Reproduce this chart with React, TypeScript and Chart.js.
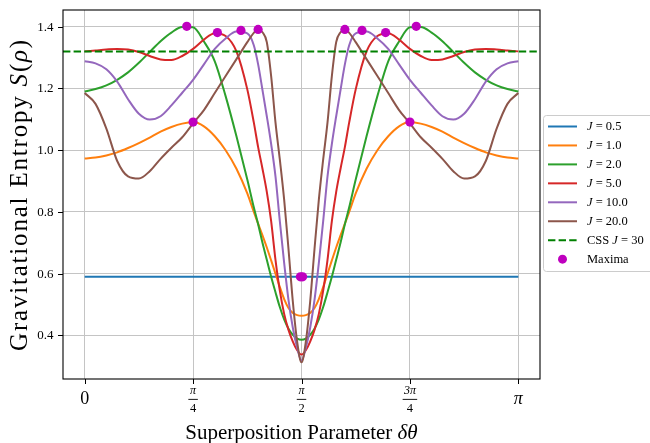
import { useEffect, useRef } from 'react';
import { Chart, registerables } from 'chart.js';

Chart.register(...registerables);

// Superposition parameter δθ, in units of π
const THETA_PI = [
  0, 0.025, 0.05, 0.075, 0.1, 0.125, 0.15, 0.175, 0.2, 0.225, 0.25, 0.275, 0.3, 0.325, 0.35, 0.375,
  0.39, 0.4, 0.41, 0.42, 0.43, 0.44, 0.45, 0.46, 0.47, 0.48, 0.49, 0.5,
  0.51, 0.52, 0.53, 0.54, 0.55, 0.56, 0.57, 0.58, 0.59, 0.6, 0.61,
  0.625, 0.65, 0.675, 0.7, 0.725, 0.75, 0.775, 0.8, 0.825, 0.85, 0.875, 0.9, 0.925, 0.95, 0.975, 1.0,
];

// J = 0.5 is flat across the whole range
const J05_THETA_PI = [0, 1];
const S_J05 = [0.59, 0.59];

const S_J1 = [
  0.973, 0.976, 0.983, 0.993, 1.007, 1.023, 1.041, 1.06, 1.075, 1.086, 1.091, 1.077, 1.045, 1.0, 0.94, 0.86,
  0.8, 0.762, 0.724, 0.685, 0.643, 0.6, 0.557, 0.518, 0.489, 0.473, 0.466, 0.464,
  0.466, 0.473, 0.489, 0.518, 0.557, 0.6, 0.643, 0.685, 0.724, 0.762, 0.8,
  0.86, 0.94, 1.0, 1.045, 1.077, 1.091, 1.086, 1.075, 1.06, 1.041, 1.023, 1.007, 0.993, 0.983, 0.976, 0.973,
];

const S_J2 = [
  1.19, 1.198, 1.21, 1.228, 1.252, 1.283, 1.318, 1.353, 1.381, 1.399, 1.398, 1.352, 1.288, 1.175, 1.045, 0.905,
  0.815, 0.76, 0.7, 0.645, 0.59, 0.54, 0.492, 0.452, 0.422, 0.402, 0.39, 0.386,
  0.39, 0.402, 0.422, 0.452, 0.492, 0.54, 0.59, 0.645, 0.7, 0.76, 0.815,
  0.905, 1.045, 1.175, 1.288, 1.352, 1.398, 1.399, 1.381, 1.353, 1.318, 1.283, 1.252, 1.228, 1.21, 1.198, 1.19,
];

const S_J5 = [
  1.32, 1.323, 1.326, 1.328, 1.326, 1.318, 1.305, 1.294, 1.292, 1.305, 1.328, 1.358, 1.379, 1.37, 1.32, 1.197,
  1.09, 1.01, 0.94, 0.865, 0.77, 0.645, 0.545, 0.47, 0.418, 0.38, 0.352, 0.338,
  0.352, 0.38, 0.418, 0.47, 0.545, 0.645, 0.77, 0.865, 0.94, 1.01, 1.09,
  1.197, 1.32, 1.37, 1.379, 1.358, 1.328, 1.305, 1.292, 1.294, 1.305, 1.318, 1.326, 1.328, 1.326, 1.323, 1.32,
];

const S_J10 = [
  1.288, 1.281, 1.262, 1.222, 1.165, 1.118, 1.099, 1.11, 1.145, 1.186, 1.228, 1.278, 1.328, 1.362, 1.384, 1.378,
  1.34, 1.278, 1.195, 1.11, 1.02, 0.915, 0.77, 0.635, 0.515, 0.425, 0.36, 0.319,
  0.36, 0.425, 0.515, 0.635, 0.77, 0.915, 1.02, 1.11, 1.195, 1.278, 1.34,
  1.378, 1.384, 1.362, 1.328, 1.278, 1.228, 1.186, 1.145, 1.11, 1.099, 1.118, 1.165, 1.222, 1.262, 1.281, 1.288,
];

const S_J20 = [
  1.185, 1.15, 1.07, 0.965, 0.915, 0.908, 0.932, 0.972, 1.008, 1.042, 1.087, 1.13, 1.185, 1.24, 1.295, 1.35,
  1.38, 1.391, 1.382, 1.35, 1.24, 1.09, 0.97, 0.84, 0.68, 0.51, 0.38, 0.313,
  0.38, 0.51, 0.68, 0.84, 0.97, 1.09, 1.24, 1.35, 1.382, 1.391, 1.38,
  1.35, 1.295, 1.24, 1.185, 1.13, 1.087, 1.042, 1.008, 0.972, 0.932, 0.908, 0.915, 0.965, 1.07, 1.15, 1.185,
];

// Classical reference level for J = 30
const CSS_J30 = 1.32;

// Located maxima of each curve (θ in units of π)
const MAXIMA_THETA_PI = [0.4975, 0.5025, 0.25, 0.75, 0.2354, 0.7646, 0.306, 0.694, 0.3604, 0.6396, 0.4, 0.6];
const MAXIMA_S = [0.59, 0.59, 1.091, 1.091, 1.401, 1.401, 1.381, 1.381, 1.388, 1.388, 1.391, 1.391];

const J_LABELS = ['0.5', '1.0', '2.0', '5.0', '10.0', '20.0'];
const COLORS = ['#1f77b4', '#ff7f0e', '#2ca02c', '#d62728', '#9467bd', '#8c564b'];
const CSS_COLOR = '#008000';
const MAXIMA_COLOR = '#bf00bf';

const X_TICKS_PI = [0, 0.25, 0.5, 0.75, 1];
const X_TICK_LABELS: { num: string; den?: string }[] = [
  { num: '0' },
  { num: 'π', den: '4' },
  { num: 'π', den: '2' },
  { num: '3π', den: '4' },
  { num: 'π' },
];
const Y_TICKS = [0.4, 0.6, 0.8, 1.0, 1.2, 1.4];

const X_MIN = -0.05 * Math.PI;
const X_MAX = 1.05 * Math.PI;
const Y_MIN = 0.259;
const Y_MAX = 1.454;

const SERIF = '"Liberation Serif", "Times New Roman", serif';

type Seg = { t: string; it?: boolean };

function segFont(size: number, it?: boolean) {
  return `${it ? 'italic ' : ''}${size}px ${SERIF}`;
}

function segWidth(ctx: CanvasRenderingContext2D, segs: Seg[], size: number) {
  let w = 0;
  for (const s of segs) {
    ctx.font = segFont(size, s.it);
    w += ctx.measureText(s.t).width;
  }
  return w;
}

function drawSegs(ctx: CanvasRenderingContext2D, segs: Seg[], size: number, x: number, y: number) {
  let cx = x;
  for (const s of segs) {
    ctx.font = segFont(size, s.it);
    ctx.fillText(s.t, cx, y);
    cx += ctx.measureText(s.t).width;
  }
}

const decorations = {
  id: 'decorations',
  afterDraw(chart: any) {
    const { ctx, chartArea: a, scales } = chart;
    const xs = scales.x;
    const ys = scales.y;
    ctx.save();

    // axes frame
    ctx.strokeStyle = '#000';
    ctx.lineWidth = 1.1;
    ctx.strokeRect(a.left, a.top, a.right - a.left, a.bottom - a.top);

    // tick marks
    ctx.beginPath();
    for (const t of X_TICKS_PI) {
      const x = Math.round(xs.getPixelForValue(t * Math.PI)) + 0.5;
      ctx.moveTo(x, a.bottom);
      ctx.lineTo(x, a.bottom + 5);
    }
    for (const v of Y_TICKS) {
      const y = Math.round(ys.getPixelForValue(v)) + 0.5;
      ctx.moveTo(a.left, y);
      ctx.lineTo(a.left - 5, y);
    }
    ctx.lineWidth = 1;
    ctx.stroke();

    ctx.fillStyle = '#000';

    // y tick labels
    ctx.font = segFont(13);
    ctx.textAlign = 'right';
    ctx.textBaseline = 'middle';
    for (const v of Y_TICKS) {
      ctx.fillText(v.toFixed(1), a.left - 9.5, ys.getPixelForValue(v) + 0.5);
    }

    // x tick labels, with stacked fractions
    ctx.textAlign = 'center';
    ctx.textBaseline = 'alphabetic';
    X_TICK_LABELS.forEach((lab, i) => {
      const x = xs.getPixelForValue(X_TICKS_PI[i] * Math.PI);
      if (!lab.den) {
        ctx.font = segFont(18, lab.num === 'π');
        ctx.fillText(lab.num, x, a.bottom + 24.5);
      } else {
        ctx.font = segFont(12, false);
        const wn = ctx.measureText(lab.num).width;
        ctx.font = segFont(12, true);
        ctx.fillText(lab.num, x, a.bottom + 14.8);
        ctx.font = segFont(12.5);
        ctx.fillText(lab.den, x, a.bottom + 32.7);
        const bw = Math.max(wn, 7) + 2.5;
        ctx.fillRect(x - bw / 2, a.bottom + 19.9, bw, 0.9);
      }
    });

    // x axis title
    const xTitle: Seg[] = [{ t: 'Superposition Parameter ' }, { t: 'δθ', it: true }];
    const xw = segWidth(ctx, xTitle, 21);
    ctx.textAlign = 'left';
    drawSegs(ctx, xTitle, 21, (a.left + a.right) / 2 - xw / 2, 439);

    // y axis title
    const yTitle: Seg[] = [
      { t: 'Gravitational Entropy ' },
      { t: 'S', it: true },
      { t: '(' },
      { t: 'ρ', it: true },
      { t: ')' },
    ];
    ctx.save();
    (ctx as any).letterSpacing = '1.8px';
    const yw = segWidth(ctx, yTitle, 25);
    ctx.translate(27, (a.top + a.bottom) / 2);
    ctx.rotate(-Math.PI / 2);
    drawSegs(ctx, yTitle, 25, -yw / 2, 0);
    ctx.restore();

    // legend
    const lx = 543.5;
    const ly = 115.5;
    const lw = 115;
    const lh = 156;
    ctx.beginPath();
    ctx.roundRect(lx, ly, lw, lh, 3);
    ctx.fillStyle = 'rgba(255,255,255,0.85)';
    ctx.fill();
    ctx.strokeStyle = '#cccccc';
    ctx.lineWidth = 1;
    ctx.stroke();

    const rows: { segs: Seg[]; kind: 'line' | 'dash' | 'dot'; color: string }[] = [
      ...J_LABELS.map((j, i) => ({
        segs: [{ t: 'J', it: true }, { t: ' = ' + j }] as Seg[],
        kind: 'line' as const,
        color: COLORS[i],
      })),
      { segs: [{ t: 'CSS ' }, { t: 'J', it: true }, { t: ' = 30' }], kind: 'dash', color: CSS_COLOR },
      { segs: [{ t: 'Maxima' }], kind: 'dot', color: MAXIMA_COLOR },
    ];
    ctx.textBaseline = 'middle';
    rows.forEach((r, i) => {
      const cy = 126.5 + i * 18.95;
      ctx.strokeStyle = r.color;
      ctx.fillStyle = r.color;
      ctx.lineWidth = 2;
      if (r.kind === 'line') {
        ctx.setLineDash([]);
        ctx.beginPath();
        ctx.moveTo(548, cy);
        ctx.lineTo(577, cy);
        ctx.stroke();
      } else if (r.kind === 'dash') {
        ctx.setLineDash([7.4, 3.2]);
        ctx.beginPath();
        ctx.moveTo(548, cy);
        ctx.lineTo(577, cy);
        ctx.stroke();
        ctx.setLineDash([]);
      } else {
        ctx.beginPath();
        ctx.arc(562.5, cy, 4.5, 0, Math.PI * 2);
        ctx.fill();
      }
      ctx.fillStyle = '#000';
      drawSegs(ctx, r.segs, 12.5, 587, cy + 0.5);
    });

    ctx.restore();
  },
};

function toPoints(thetaPi: number[], s: number[]) {
  return thetaPi.map((t, i) => ({ x: t * Math.PI, y: s[i] }));
}

export default function App() {
  const ref = useRef<HTMLCanvasElement>(null);

  useEffect(() => {
    const curves = [
      toPoints(J05_THETA_PI, S_J05),
      toPoints(THETA_PI, S_J1),
      toPoints(THETA_PI, S_J2),
      toPoints(THETA_PI, S_J5),
      toPoints(THETA_PI, S_J10),
      toPoints(THETA_PI, S_J20),
    ];

    const datasets: any[] = curves.map((data, i) => ({
      type: 'line',
      label: `J = ${J_LABELS[i]}`,
      data,
      borderColor: COLORS[i],
      borderWidth: 2,
      pointRadius: 0,
      fill: false,
      cubicInterpolationMode: 'monotone',
      order: 10 - i,
    }));

    datasets.push({
      type: 'line',
      label: 'CSS J = 30',
      data: [
        { x: X_MIN, y: CSS_J30 },
        { x: X_MAX, y: CSS_J30 },
      ],
      borderColor: CSS_COLOR,
      borderWidth: 2,
      borderDash: [7.4, 3.2],
      pointRadius: 0,
      fill: false,
      order: 2,
    });

    datasets.push({
      type: 'scatter',
      label: 'Maxima',
      data: toPoints(MAXIMA_THETA_PI, MAXIMA_S),
      showLine: false,
      pointRadius: 4.6,
      pointBorderWidth: 0,
      pointBackgroundColor: MAXIMA_COLOR,
      order: 0,
    });

    const chart = new Chart(ref.current!, {
      type: 'line',
      data: { datasets },
      options: {
        animation: false,
        responsive: false,
        events: [],
        layout: { padding: { left: 63, right: 110, top: 10, bottom: 64 } },
        plugins: { legend: { display: false }, tooltip: { enabled: false } },
        scales: {
          x: {
            type: 'linear',
            min: X_MIN,
            max: X_MAX,
            afterBuildTicks: (axis: any) => {
              axis.ticks = X_TICKS_PI.map((t) => ({ value: t * Math.PI }));
            },
            ticks: { display: false },
            grid: { color: '#c4c4c4', lineWidth: 1, drawTicks: false },
            border: { display: false },
          },
          y: {
            type: 'linear',
            min: Y_MIN,
            max: Y_MAX,
            afterBuildTicks: (axis: any) => {
              axis.ticks = Y_TICKS.map((v) => ({ value: v }));
            },
            ticks: { display: false },
            grid: { color: '#c4c4c4', lineWidth: 1, drawTicks: false },
            border: { display: false },
          },
        },
      } as any,
      plugins: [decorations],
    });

    return () => chart.destroy();
  }, []);

  return (
    <div style={{ position: 'fixed', left: 0, top: 0, width: 650, height: 443, background: '#fff' }}>
      <canvas ref={ref} width={650} height={443} style={{ display: 'block', width: 650, height: 443 }} />
    </div>
  );
}
